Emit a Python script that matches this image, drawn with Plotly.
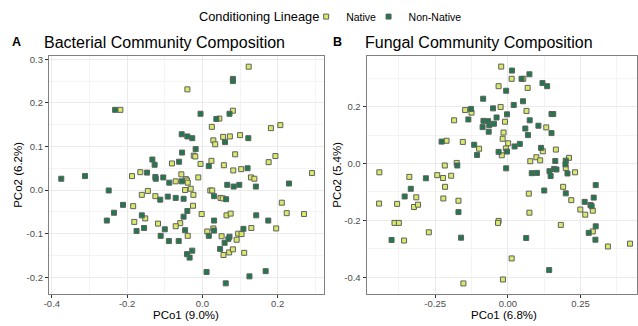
import plotly.graph_objects as go

# ---- Bacterial PCoA scores (PCo1, PCo2) by conditioning lineage ----
bac_native_pco1 = [0.123, -0.040, -0.218, 0.081, 0.045, 0.025, 0.182, 0.207, 0.055, 0.073,
                   0.100, 0.029, 0.034, -0.023, -0.019, 0.087, 0.194, 0.176, -0.081, -0.005,
                   0.024, 0.057, 0.082, 0.103, -0.187, -0.165, -0.056, -0.011, 0.129, 0.138,
                   0.291, -0.071, -0.044, -0.041, -0.039, 0.021, 0.026, 0.048, 0.054, -0.161,
                   -0.145, -0.125, -0.046, -0.031, -0.024, -0.184, -0.152, -0.181, -0.118, -0.025,
                   -0.059, -0.071, -0.002, -0.039, 0.029, 0.013, 0.064, 0.075, 0.051, 0.091,
                   0.095, 0.104, 0.056, 0.071, 0.081, 0.111, 0.130, 0.196, 0.211, 0.224, 0.270]
bac_native_pco2 = [0.283, 0.231, 0.184, 0.182, 0.164, 0.145, 0.142, 0.149, 0.122, 0.123,
                   0.126, 0.114, 0.105, 0.079, 0.077, 0.082, 0.078, 0.064, 0.061, 0.060,
                   0.067, 0.057, 0.045, 0.048, 0.032, 0.041, 0.036, 0.029, 0.029, 0.026,
                   0.039, 0.020, 0.025, 0.022, 0.017, -0.001, -0.001, -0.018, -0.019, -0.011,
                   -0.002, -0.014, 0.000, 0.003, -0.011, -0.037, -0.065, -0.073, -0.077, -0.036,
                   -0.076, -0.083, -0.055, -0.105, -0.088, -0.095, -0.058, -0.054, -0.106, -0.114,
                   -0.100, -0.101, -0.149, -0.143, -0.136, -0.144, -0.087, -0.088, -0.029, -0.053, -0.055]

bac_nonnative_pco1 = [0.081, 0.081, -0.232, -0.005, 0.072, 0.037, -0.055, -0.040, -0.027, 0.122,
                      0.060, -0.018, -0.054, -0.133, -0.127, -0.062, 0.017, 0.120, -0.147, -0.375,
                      -0.312, -0.125, -0.124, -0.104, -0.088, -0.055, 0.066, 0.083, 0.098, 0.031,
                      0.063, 0.142, 0.230, -0.249, -0.112, -0.092, -0.071, -0.050, -0.211, -0.235,
                      -0.254, -0.161, -0.175, -0.155, -0.100, -0.040, -0.050, -0.046, -0.111, -0.089,
                      -0.063, -0.041, -0.034, -0.027, 0.031, 0.031, 0.017, 0.072, 0.069, 0.059,
                      0.047, 0.109, 0.143, 0.175, 0.011, 0.062, 0.125, 0.168]
bac_nonnative_pco2 = [0.255, 0.250, 0.184, 0.175, 0.175, 0.163, 0.128, 0.123, 0.119, 0.119,
                      0.110, 0.094, 0.086, 0.070, 0.058, 0.065, 0.055, 0.050, 0.040, 0.026,
                      0.032, 0.030, 0.026, 0.029, 0.017, 0.020, 0.012, 0.008, 0.012, -0.014,
                      -0.021, 0.008, 0.015, -0.001, -0.022, -0.015, -0.018, -0.020, -0.034, -0.052,
                      -0.070, -0.058, -0.094, -0.087, -0.090, -0.048, -0.061, -0.092, -0.105, -0.117,
                      -0.117, -0.147, -0.155, -0.139, -0.070, -0.093, -0.105, -0.107, -0.112, -0.121,
                      -0.135, -0.089, -0.058, -0.070, -0.188, -0.214, -0.198, -0.186]

# ---- Fungal PCoA scores (PCo1, PCo2) by conditioning lineage ----
fun_native_pco1 = [-0.023, 0.013, 0.053, -0.032, 0.068, -0.025, -0.147, -0.125, 0.064, -0.185,
                   -0.010, 0.132, -0.015, -0.018, 0.001, -0.007, -0.021, 0.120, 0.098, 0.111,
                   0.077, 0.165, 0.210, 0.199, 0.231, -0.099, -0.211, -0.155, -0.176, -0.217,
                   -0.442, -0.339, -0.243, -0.223, -0.195, -0.216, -0.315, -0.443, -0.381, -0.323,
                   -0.309, -0.222, -0.170, -0.390, -0.375, -0.272, -0.357, -0.032, -0.034, 0.013,
                   -0.017, -0.153, 0.072, 0.074, 0.190, 0.218, 0.249, 0.266, 0.292, 0.182,
                   0.292, 0.344, 0.420]
fun_native_pco2 = [0.341, 0.298, 0.298, 0.272, 0.266, 0.199, 0.188, 0.179, 0.185, 0.152,
                   0.147, 0.127, 0.109, 0.087, 0.071, 0.053, 0.029, 0.043, 0.022, 0.011,
                   0.008, 0.049, 0.020, -0.016, -0.031, 0.052, 0.080, 0.076, 0.002, -0.007,
                   -0.031, -0.047, -0.041, -0.051, -0.043, -0.082, -0.119, -0.141, -0.142, -0.153,
                   -0.145, -0.123, -0.131, -0.209, -0.209, -0.242, -0.271, -0.202, -0.209, -0.334,
                   -0.408, -0.422, -0.106, -0.173, -0.082, -0.129, -0.162, -0.180, -0.166, -0.216,
                   -0.239, -0.292, -0.282]

fun_nonnative_pco1 = [0.014, 0.074, 0.047, 0.119, 0.135, -0.006, -0.085, 0.052, 0.020, -0.051,
                      -0.127, -0.003, 0.150, 0.156, -0.136, -0.084, -0.068, -0.048, -0.039, -0.087,
                      -0.064, -0.066, 0.075, 0.060, 0.105, 0.150, 0.069, -0.003, -0.032, 0.023,
                      0.041, 0.114, 0.163, 0.199, 0.198, 0.205, -0.006, 0.082, 0.100, 0.143,
                      0.147, 0.159, 0.167, -0.116, -0.106, -0.228, -0.174, -0.282, -0.334, -0.355,
                      -0.170, -0.400, -0.161, 0.063, 0.142, 0.125, 0.199, 0.264, 0.284, 0.288,
                      0.295, 0.302, 0.302, 0.278, 0.301]
fun_nonnative_pco2 = [0.327, 0.314, 0.298, 0.283, 0.272, 0.256, 0.228, 0.219, 0.206, 0.194,
                      0.192, 0.173, 0.174, 0.174, 0.155, 0.150, 0.149, 0.140, 0.162, 0.128,
                      0.135, 0.112, 0.152, 0.123, 0.133, 0.107, 0.100, 0.042, 0.041, 0.060,
                      0.069, 0.055, 0.009, 0.010, -0.003, -0.035, -0.017, -0.034, -0.033, -0.027,
                      -0.044, -0.019, -0.021, 0.066, 0.030, 0.077, -0.007, -0.052, -0.089, -0.116,
                      -0.171, -0.269, -0.261, -0.262, -0.375, -0.095, -0.105, -0.135, -0.146, -0.150,
                      -0.120, -0.076, -0.221, -0.244, -0.268]

# ---- Axis ticks ----
bac_x_ticks = [-0.4, -0.2, 0.0, 0.2]
bac_x_labels = ["-0.4", "-0.2", "0.0", "0.2"]
bac_y_ticks = [-0.2, -0.1, 0.0, 0.1, 0.2, 0.3]
bac_y_labels = ["-0.2", "-0.1", "0.0", "0.1", "0.2", "0.3"]
fun_x_ticks = [-0.25, 0.0, 0.25]
fun_x_labels = ["-0.25", "0.00", "0.25"]
fun_y_ticks = [-0.4, -0.2, 0.0, 0.2]
fun_y_labels = ["-0.4", "-0.2", "0.0", "0.2"]

NATIVE_FILL = "#d9e968"
NONNATIVE_FILL = "#1f7a4b"
OUTLINE = "#606060"
FONT = "Liberation Sans, Arial, sans-serif"


def marker(fill):
    return dict(symbol="square", size=5, color=fill, line=dict(color=OUTLINE, width=1))


fig = go.Figure()
fig.add_trace(go.Scatter(x=bac_native_pco1, y=bac_native_pco2, mode="markers", name="Native",
                         legendgroup="Native", legend="legend", marker=marker(NATIVE_FILL),
                         xaxis="x", yaxis="y"))
fig.add_trace(go.Scatter(x=bac_nonnative_pco1, y=bac_nonnative_pco2, mode="markers", name="Non-Native",
                         legendgroup="NonNative", legend="legend2", marker=marker(NONNATIVE_FILL),
                         xaxis="x", yaxis="y"))
fig.add_trace(go.Scatter(x=fun_native_pco1, y=fun_native_pco2, mode="markers", name="Native",
                         legendgroup="Native", showlegend=False, marker=marker(NATIVE_FILL),
                         xaxis="x2", yaxis="y2"))
fig.add_trace(go.Scatter(x=fun_nonnative_pco1, y=fun_nonnative_pco2, mode="markers", name="Non-Native",
                         legendgroup="NonNative", showlegend=False, marker=marker(NONNATIVE_FILL),
                         xaxis="x2", yaxis="y2"))


def axis(domain, rng, ticks, labels, minor, anchor, standoff=0):
    return dict(
        domain=domain, range=rng, anchor=anchor,
        tickmode="array", tickvals=ticks, ticktext=labels,
        ticks="outside", ticklen=3, tickwidth=1, tickcolor="#333333",
        ticklabelstandoff=standoff,
        tickfont=dict(family=FONT, size=9.5, color="#4d4d4d"),
        showgrid=True, gridcolor="#ebebeb", gridwidth=1,
        minor=dict(tickmode="array", tickvals=minor, showgrid=True, gridcolor="#f4f4f4",
                   gridwidth=0.6, ticks=""),
        showline=True, mirror=True, linecolor="#808080", linewidth=1,
        zeroline=False, fixedrange=True,
    )


def legend_box(x_px):
    return dict(orientation="h", x=x_px / 638, xanchor="left", y=0.955, yanchor="middle",
                font=dict(family=FONT, size=10.5, color="black"),
                itemwidth=30, bgcolor="rgba(0,0,0,0)")


Y_DOMAIN = [0.098, 0.834]
fig.update_layout(
    width=638, height=326,
    margin=dict(l=0, r=0, t=0, b=0),
    paper_bgcolor="white", plot_bgcolor="white",
    font=dict(family=FONT, color="black"),
    xaxis=axis([0.0694, 0.5053], [-0.408, 0.324], bac_x_ticks, bac_x_labels,
               [-0.3, -0.1, 0.1, 0.3], "y", standoff=-3),
    yaxis=axis(Y_DOMAIN, [-0.239, 0.308], bac_y_ticks, bac_y_labels,
               [-0.15, -0.05, 0.05, 0.15, 0.25], "x"),
    xaxis2=axis([0.5721, 1.0], [-0.486, 0.444], fun_x_ticks, fun_x_labels,
                [-0.375, -0.125, 0.125, 0.375], "y2", standoff=-3),
    yaxis2=axis(Y_DOMAIN, [-0.460, 0.379], fun_y_ticks, fun_y_labels,
                [-0.3, -0.1, 0.1, 0.3], "x2"),
    showlegend=True,
    legend=legend_box(304),
    legend2=legend_box(367),
)

annotations = [
    dict(text="Conditioning Lineage", x=194 / 638, y=1 - 15 / 326, xanchor="left",
         yanchor="middle", font=dict(size=12.8)),
    dict(text="<b>A</b>", x=5 / 638, y=1 - 40 / 326, xanchor="left", yanchor="middle",
         font=dict(size=12.5)),
    dict(text="Bacterial Community Composition", x=37 / 638, y=1 - 41 / 326, xanchor="left",
         yanchor="middle", font=dict(size=16)),
    dict(text="<b>B</b>", x=329 / 638, y=1 - 40 / 326, xanchor="left", yanchor="middle",
         font=dict(size=12.5)),
    dict(text="Fungal Community Composition", x=361 / 638, y=1 - 41 / 326, xanchor="left",
         yanchor="middle", font=dict(size=16)),
    dict(text="PCo1 (9.0%)", x=183 / 638, y=1 - 315 / 326, xanchor="center", yanchor="middle",
         font=dict(size=11.5)),
    dict(text="PCo1 (6.8%)", x=504 / 638, y=1 - 315 / 326, xanchor="center", yanchor="middle",
         font=dict(size=11.5)),
    dict(text="PCo2 (6.2%)", x=13 / 638, y=1 - 174 / 326, xanchor="center", yanchor="middle",
         textangle=-90, font=dict(size=11.5)),
    dict(text="PCo2 (5.4%)", x=335 / 638, y=1 - 174 / 326, xanchor="center", yanchor="middle",
         textangle=-90, font=dict(size=11.5)),
]
for a in annotations:
    a.update(xref="paper", yref="paper", showarrow=False)
    a["font"].update(family=FONT, color="black")
fig.update_layout(annotations=annotations)

fig.write_html("out.html")
